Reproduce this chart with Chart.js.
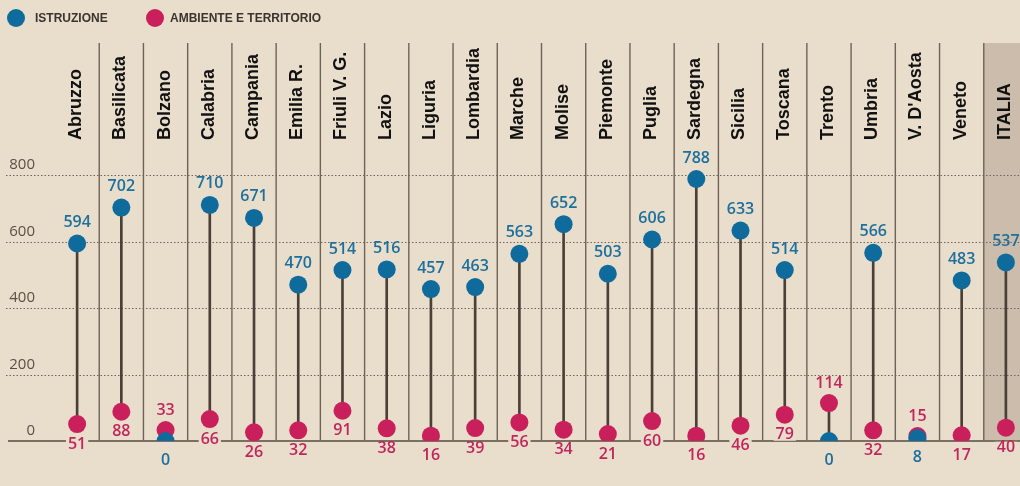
<!DOCTYPE html>
<html>
<head>
<meta charset="utf-8">
<script src="https://cdn.jsdelivr.net/npm/chart.js@4/dist/chart.umd.min.js"></script>
<style>
  html, body { margin: 0; padding: 0; background: #e9ddcc; overflow: hidden; }
  #wrap { position: relative; width: 1020px; height: 486px; overflow: hidden; }
  #cwrap { position: absolute; left: 0; top: 0; width: 1040px; height: 486px; }
  #c { display: block; width: 1040px; height: 486px; }
  #legend { position: absolute; left: 0; top: 0; height: 36px; font-family: "Liberation Sans", Arial, sans-serif; font-weight: bold; font-size: 12px; color: #3b342e; }
  .lg { position: absolute; top: 11px; white-space: nowrap; }
  .dot { position: absolute; width: 18px; height: 18px; border-radius: 50%; top: 9px; }
</style>
</head>
<body>
<div id="wrap">
  <div id="cwrap"><canvas id="c" width="1040" height="486"></canvas></div>
  <div id="legend">
    <div class="dot" style="left:7px; background:#0f6b9c"></div>
    <div class="lg" style="left:35px">ISTRUZIONE</div>
    <div class="dot" style="left:146px; background:#c91f5b"></div>
    <div class="lg" style="left:170px">AMBIENTE E TERRITORIO</div>
  </div>
</div>
<script>
const categories = ["Abruzzo","Basilicata","Bolzano","Calabria","Campania","Emilia R.","Friuli V. G.","Lazio","Liguria","Lombardia","Marche","Molise","Piemonte","Puglia","Sardegna","Sicilia","Toscana","Trento","Umbria","V. D'Aosta","Veneto","ITALIA"];
const istruzione = [594,702,0,710,671,470,514,516,457,463,563,652,503,606,788,633,514,0,566,8,483,537];
const ambiente = [51,88,33,66,26,32,91,38,16,39,56,34,21,60,16,46,79,114,32,15,17,40];
const yTicks = [0,200,400,600,800];

const BG = '#e9ddcc';
const BLUE = '#0f6b9c';
const PINK = '#c91f5b';
const BLUE_T = '#1d6f9c';
const PINK_T = '#c0265c';

const stems = categories.map((c, i) => [Math.min(istruzione[i], ambiente[i]), Math.max(istruzione[i], ambiente[i])]);

const decor = {
  id: 'decor',
  beforeDatasetsDraw(chart) {
    const {ctx, chartArea: ca, scales: {x, y}} = chart;
    const n = categories.length;
    const w = x.getPixelForValue(1) - x.getPixelForValue(0);
    const y0 = y.getPixelForValue(0);
    ctx.save();
    const li = categories.length - 1;
    const xl = x.getPixelForValue(li) - w / 2;
    ctx.fillStyle = '#cbbcab';
    ctx.fillRect(xl, ca.top + 1, 100, y0 - ca.top - 1);
    ctx.strokeStyle = '#6f655c';
    ctx.lineWidth = 1;
    ctx.setLineDash([1.5, 2]);
    yTicks.forEach(v => {
      if (v === 0) return;
      const py = Math.round(y.getPixelForValue(v)) + 0.5;
      ctx.beginPath(); ctx.moveTo(6, py); ctx.lineTo(ca.right + 10, py); ctx.stroke();
    });
    ctx.setLineDash([]);
    ctx.strokeStyle = '#6f6358';
    ctx.lineWidth = 1.4;
    for (let i = 1; i < n; i++) {
      const px = x.getPixelForValue(i) - w / 2;
      ctx.beginPath(); ctx.moveTo(px, ca.top + 1); ctx.lineTo(px, y0); ctx.stroke();
    }
    ctx.strokeStyle = '#7b6f63';
    ctx.lineWidth = 2;
    ctx.beginPath(); ctx.moveTo(8, y0); ctx.lineTo(ca.right + 10, y0); ctx.stroke();
    ctx.fillStyle = '#111';
    ctx.font = 'bold 18px "Liberation Sans", Arial, sans-serif';
    ctx.textAlign = 'left';
    ctx.textBaseline = 'middle';
    categories.forEach((c, i) => {
      const px = x.getPixelForValue(i);
      ctx.save();
      ctx.translate(px - 1, 140);
      ctx.rotate(-Math.PI / 2);
      ctx.fillText(c, 0, 0);
      ctx.restore();
    });
    ctx.restore();
  },
  afterDatasetsDraw(chart) {
    const {ctx, scales: {x, y}} = chart;
    ctx.save();
    ctx.font = '600 16px "Open Sans", sans-serif';
    ctx.textAlign = 'center';
    ctx.textBaseline = 'middle';
    categories.forEach((c, i) => {
      const px = x.getPixelForValue(i);
      const bi = istruzione[i], ai = ambiente[i];
      const pyB = y.getPixelForValue(bi), pyA = y.getPixelForValue(ai);
      const blueAbove = bi >= ai;
      ctx.fillStyle = BLUE_T;
      ctx.fillText(String(bi), px, blueAbove ? pyB - 21 : pyB + 19);
      const ly = blueAbove ? pyA + 20 : pyA - 20;
      const t = String(ai);
      if (blueAbove) {
        const tw = ctx.measureText(t).width;
        ctx.fillStyle = BG;
        ctx.fillRect(px - tw / 2 - 2, ly - 6, tw + 4, 12);
      }
      ctx.fillStyle = PINK_T;
      ctx.fillText(t, px, ly);
    });
    ctx.restore();
  }
};

new Chart(document.getElementById('c'), {
  data: {
    labels: categories,
    datasets: [
      { type: 'line', label: 'ISTRUZIONE', data: istruzione, showLine: false, pointRadius: 9, pointHoverRadius: 9, pointBackgroundColor: BLUE, pointBorderWidth: 0, order: 0 },
      { type: 'line', label: 'AMBIENTE E TERRITORIO', data: ambiente, showLine: false, pointRadius: 9, pointHoverRadius: 9, pointBackgroundColor: PINK, pointBorderWidth: 0, order: 1 },
      { type: 'bar', label: 'stem', data: stems, backgroundColor: '#4a4038', barThickness: 2, borderWidth: 0, order: 2 }
    ]
  },
  options: {
    responsive: false,
    animation: false,
    events: [],
    layout: { padding: { left: 0, right: 12, top: 42, bottom: 45 } },
    plugins: { legend: { display: false }, tooltip: { enabled: false } },
    scales: {
      x: { type: 'category', offset: true, display: false, grid: { display: false } },
      y: {
        min: 0, max: 1200,
        afterFit(s) { s.width = 55; },
        afterBuildTicks(s) { s.ticks = yTicks.map(v => ({ value: v })); },
        border: { display: false },
        grid: { display: false, drawTicks: false },
        ticks: {
          padding: 20,
          labelOffset: -10,
          color: '#5a5048',
          font: { family: '"Open Sans", sans-serif', size: 15 },
          callback: v => String(v)
        }
      }
    }
  },
  plugins: [decor]
});
</script>
</body>
</html>
